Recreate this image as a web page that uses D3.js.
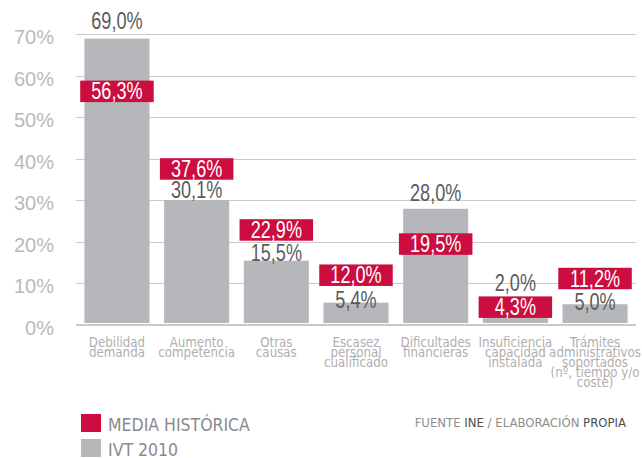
<!DOCTYPE html>
<html>
<head>
<meta charset="utf-8">
<script src="https://cdn.jsdelivr.net/npm/d3@7"></script>
<style>
  html, body { margin: 0; padding: 0; background: #fff; }
  svg { display: block; }
  .num { font-family: "Liberation Sans", Arial, sans-serif; font-size: 23.5px; }
  .cat { font-family: "DejaVu Sans Condensed", "DejaVu Sans", sans-serif; font-size: 13.2px; fill: #afafaf; }
  .legend { font-family: "DejaVu Sans Condensed", "DejaVu Sans", sans-serif; }
</style>
</head>
<body>
<svg id="chart" width="642" height="458"></svg>
<script>
// categories (multi-line labels)
const categories = [
  ["Debilidad", "demanda"],
  ["Aumento", "competencia"],
  ["Otras", "causas"],
  ["Escasez", "personal", "cualificado"],
  ["Dificultades", "financieras"],
  ["Insuficiencia", "capacidad", "instalada"],
  ["Trámites", "administrativos", "soportados", "(nº, tiempo y/o", "coste)"]
];
const ivt2010 = [69.0, 30.1, 15.5, 5.4, 28.0, 2.0, 5.0];
const mediaHistorica = [56.3, 37.6, 22.9, 12.0, 19.5, 4.3, 11.2];
const yTicks = [0, 10, 20, 30, 40, 50, 60, 70];
const seriesNames = ["MEDIA HISTÓRICA", "IVT 2010"];

// label nudges (px) for the gray value labels, relative to bar top
const labelNudge = [-10, -2, 0, 5, -8, null, 6];

const RED = "#cb0d40", GRAY = "#b6b7ba";
const fmt = v => v.toFixed(1).replace(".", ",") + "%";

const svg = d3.select("#chart");

const x = d3.scaleBand()
  .domain(d3.range(categories.length))
  .range([76, 636])
  .paddingInner(0.184)
  .paddingOuter(0.106);

const y = d3.scaleLinear().domain([0, 70]).range([325, 34.5]);

// squeeze the number labels to look like a narrow face
function narrow(sel) {
  sel.each(function () {
    const w = this.getComputedTextLength();
    d3.select(this).attr("textLength", w * 0.77).attr("lengthAdjust", "spacingAndGlyphs");
  });
}

// gridlines
svg.append("g")
  .selectAll("line")
  .data(yTicks)
  .join("line")
  .attr("x1", 76).attr("x2", 636)
  .attr("y1", d => y(d)).attr("y2", d => y(d))
  .attr("stroke", "#c9c9c9")
  .attr("stroke-width", d => d === 0 ? 2 : 1)
  .attr("shape-rendering", "crispEdges");

// tick labels
svg.append("g")
  .selectAll("text")
  .data(yTicks)
  .join("text")
  .attr("x", 54)
  .attr("y", d => y(d) + 9.5)
  .attr("text-anchor", "end")
  .attr("font-family", "Liberation Sans, Arial, sans-serif")
  .attr("font-size", 20)
  .attr("fill", "#bababa")
  .text(d => d + "%");

// gray bars
svg.append("g")
  .selectAll("rect")
  .data(ivt2010)
  .join("rect")
  .attr("x", (d, i) => x(i))
  .attr("width", x.bandwidth())
  .attr("y", d => y(d))
  .attr("height", d => y(0) - 2 - y(d))
  .attr("fill", GRAY);

// gray value labels
const boxH = 21.5, boxW = 73.5;
svg.append("g")
  .selectAll("text")
  .data(ivt2010)
  .join("text")
  .attr("class", "num")
  .attr("x", (d, i) => x(i) + x.bandwidth() / 2)
  .attr("y", (d, i) => {
    const boxTop = y(mediaHistorica[i]) - boxH / 2;
    if (labelNudge[i] === null) return boxTop - 5;
    return y(d) + labelNudge[i];
  })
  .attr("text-anchor", "middle")
  .attr("fill", "#5b5b5b")
  .text(fmt)
  .call(narrow);

// red boxes (media histórica)
const boxes = svg.append("g")
  .selectAll("g")
  .data(mediaHistorica)
  .join("g")
  .attr("transform", (d, i) => `translate(${x(i) + x.bandwidth() / 2},${y(d)})`);

boxes.append("rect")
  .attr("x", -boxW / 2)
  .attr("y", -boxH / 2)
  .attr("width", boxW)
  .attr("height", boxH)
  .attr("fill", RED);

boxes.append("text")
  .attr("class", "num")
  .attr("y", 8)
  .attr("text-anchor", "middle")
  .attr("fill", "#fff")
  .text(fmt)
  .call(narrow);

// category labels
svg.append("g")
  .selectAll("text")
  .data(categories)
  .join("text")
  .attr("class", "cat")
  .attr("text-anchor", "middle")
  .attr("transform", (d, i) => `translate(${x(i) + x.bandwidth() / 2},347)`)
  .selectAll("tspan")
  .data(d => d)
  .join("tspan")
  .attr("x", 0)
  .attr("y", (d, j) => j * 9.9)
  .text(d => d);

// legend
const legend = svg.append("g").attr("class", "legend");
const legendColors = [RED, GRAY];
const legendRows = legend.selectAll("g")
  .data(seriesNames)
  .join("g")
  .attr("transform", (d, i) => `translate(81,${414 + i * 25})`);

legendRows.append("rect")
  .attr("width", 20)
  .attr("height", 18)
  .attr("fill", (d, i) => legendColors[i]);

legendRows.append("text")
  .attr("x", 27)
  .attr("y", 16.5)
  .attr("font-size", 17.5)
  .attr("fill", "#8a8a8a")
  .text(d => d);

// source note
const source = svg.append("text")
  .attr("class", "legend")
  .attr("x", 626)
  .attr("y", 427)
  .attr("text-anchor", "end")
  .attr("font-size", 13);

[["FUENTE ", "#8e8e8e"], ["INE", "#4d4d4d"], [" / ELABORACIÓN ", "#8e8e8e"], ["PROPIA", "#4d4d4d"]]
  .forEach(([t, c]) => source.append("tspan").attr("fill", c).text(t));
</script>
</body>
</html>
